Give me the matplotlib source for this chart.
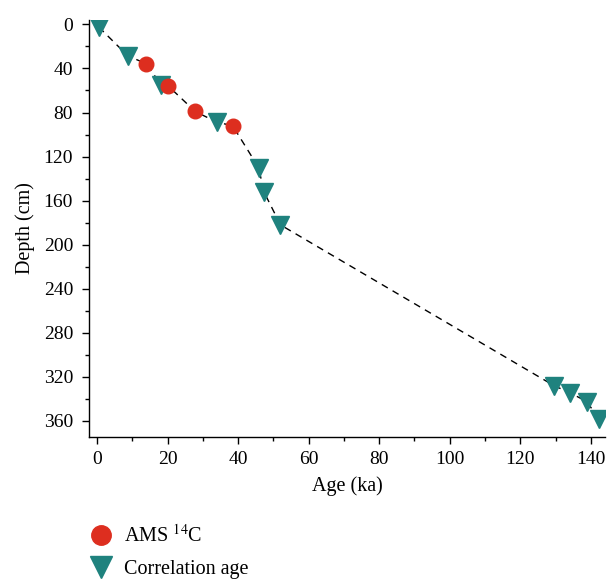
import matplotlib
matplotlib.use("Agg")
import matplotlib.pyplot as plt
from matplotlib.ticker import MultipleLocator
from matplotlib.lines import Line2D
import numpy as np

plt.rcParams['font.family'] = ['Liberation Serif', 'DejaVu Serif']
plt.rcParams['mathtext.fontset'] = 'stix'

# AMS 14C dates
ams_age = [13.9, 20.1, 27.8, 38.4]
ams_depth = [35.7, 55.7, 79.0, 91.8]

# Correlation ages
corr_age = [0.5, 8.7, 18.2, 34.1, 45.8, 47.3, 52.0, 129.6, 134.2, 138.9, 142.2]
corr_depth = [2.5, 28.5, 55.0, 89.0, 130.0, 152.0, 182.0, 328.0, 334.5, 342.5, 358.0]

legend_labels = ['AMS $^{14}$C', 'Correlation age']

red = '#DD2E1F'
teal = '#1F827E'

fig = plt.figure(figsize=(6.07, 5.79), dpi=100)
ax = fig.add_axes([0.1466, 0.2453, 0.85, 0.7202])

all_age = np.array(ams_age + corr_age)
all_depth = np.array(ams_depth + corr_depth)
order = np.argsort(all_depth)
ax.plot(all_age[order], all_depth[order], linestyle=(0, (5, 4)), color='black', lw=1.0, zorder=1)

ax.plot(corr_age, corr_depth, linestyle='none', marker='v', ms=12.5, color=teal,
        mec=teal, zorder=2)
ax.plot(ams_age, ams_depth, linestyle='none', marker='o', ms=10.5, color=red,
        mec=red, zorder=3)

ax.set_xlim(-2.3, 144)
ax.set_ylim(374.5, -4)
ax.xaxis.set_major_locator(MultipleLocator(20))
ax.xaxis.set_minor_locator(MultipleLocator(10))
ax.yaxis.set_major_locator(MultipleLocator(40))
ax.yaxis.set_minor_locator(MultipleLocator(20))
ax.tick_params(which='both', direction='out', labelsize=14, width=1.0)
ax.tick_params(which='major', length=5)
ax.tick_params(which='minor', length=2.8)
ax.tick_params(axis='x', which='major', pad=5)
ax.tick_params(axis='y', which='major', pad=6.5)
for s in ['top', 'right']:
    ax.spines[s].set_visible(False)
for s in ['left', 'bottom']:
    ax.spines[s].set_linewidth(1.0)

ax.set_xlabel('Age (ka)', fontsize=14.5, labelpad=6)
ax.set_ylabel('Depth (cm)', fontsize=14.5, labelpad=6)

h_ams = Line2D([], [], linestyle='none', marker='o', ms=14, color=red, mec=red)
h_corr = Line2D([], [], linestyle='none', marker='v', ms=15.5, color=teal, mec=teal)
fig.legend([h_ams, h_corr], legend_labels, loc='upper left', bbox_to_anchor=(0.134, 0.107),
           frameon=False, fontsize=14.5, handletextpad=0.5, labelspacing=0.62,
           handlelength=1.2, borderaxespad=0)

fig.savefig('out.png', dpi=100)
